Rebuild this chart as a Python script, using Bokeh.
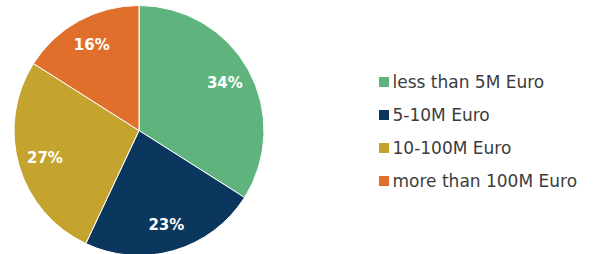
import math
from bokeh.plotting import figure
from bokeh.models import ColumnDataSource, Range1d
from bokeh.core.properties import value
from bokeh.embed import file_html
from bokeh.resources import INLINE

categories = ["less than 5M Euro", "5-10M Euro", "10-100M Euro", "more than 100M Euro"]
shares = [34, 23, 27, 16]
labels = ["34%", "23%", "27%", "16%"]
colors = ["#5fb47d", "#0b365e", "#c4a42e", "#e06f2b"]

W, H = 603, 254
p = figure(width=W, height=H, output_backend="svg", toolbar_location=None,
           x_range=Range1d(0, W), y_range=Range1d(0, H), min_border=0)
p.axis.visible = False
p.grid.visible = False
p.outline_line_color = None
p.background_fill_color = "white"

def px(x):
    return x

def py(y):
    return H - y

cx, cy, r = px(138.5), py(130), 125
total = sum(shares)
starts, ends, lx, ly = [], [], [], []
cum = 0.0
for s in shares:
    a0 = cum / total * 2 * math.pi
    cum += s
    a1 = cum / total * 2 * math.pi
    starts.append(math.pi / 2 - a1)
    ends.append(math.pi / 2 - a0)
    mid = (a0 + a1) / 2
    d = 98
    lx.append(cx + d * math.sin(mid))
    ly.append(cy + d * math.cos(mid))

src = ColumnDataSource(dict(start=starts, end=ends, color=colors, lx=lx, ly=ly, lab=labels,
                            x=[cx] * 4, y=[cy] * 4))
p.wedge(x="x", y="y", radius=r, start_angle="start", end_angle="end",
        fill_color="color", line_color="white", line_width=1, source=src)
p.text(x="lx", y="ly", text="lab", source=src, text_color="white",
       text_font=value("DejaVu Sans"), text_font_style="bold", text_font_size="15px",
       text_align="center", text_baseline="middle")

row_y = [py(81.5 + 33 * i) for i in range(len(categories))]
leg = ColumnDataSource(dict(x=[px(383.5)] * 4, tx=[px(392)] * 4, y=row_y, color=colors, t=categories))
p.scatter(x="x", y="y", marker="square", size=10, fill_color="color", line_color=None, source=leg)
p.text(x="tx", y="y", text="t", source=leg, text_color="#3c3c3c",
       text_font=value("DejaVu Sans"), text_font_size="17px", text_baseline="middle", text_align="left")

open("out.html", "w").write(file_html(p, INLINE))
